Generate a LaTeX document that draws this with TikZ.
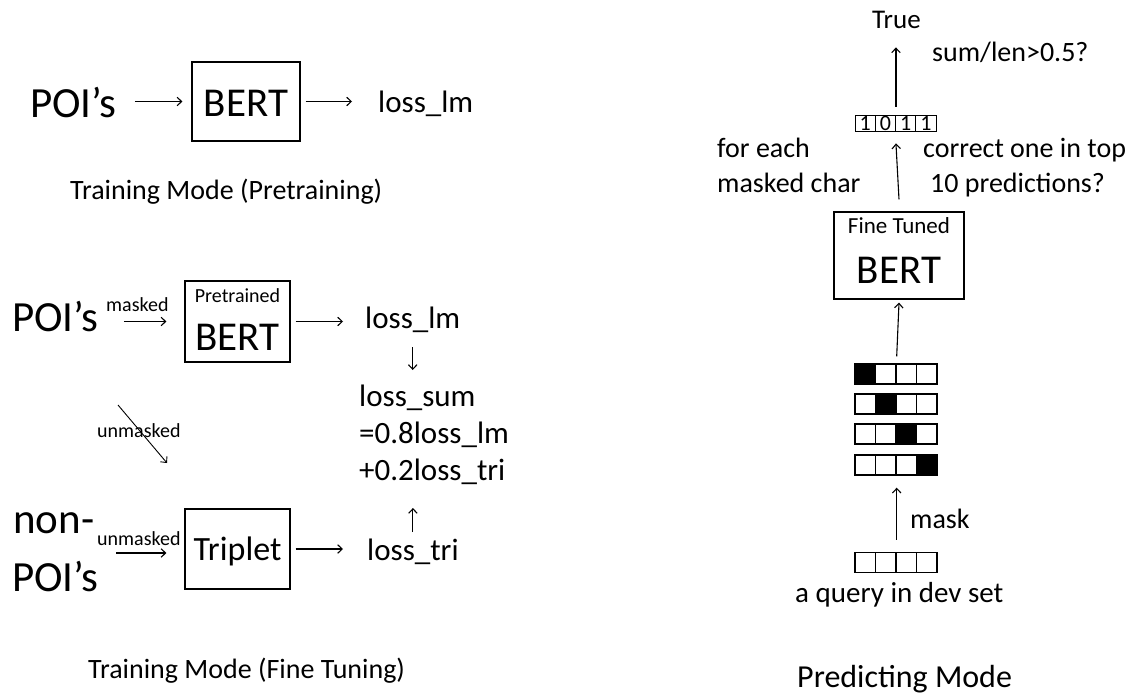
\documentclass[tikz,border=0pt]{standalone}
\usepackage{fontspec}
\setmainfont{Carlito}
\usetikzlibrary{arrows.meta}
\newcommand{\setfs}[1]{\fontsize{#1}{#1}\selectfont}

\begin{document}
\begin{tikzpicture}[x=1pt,y=-1pt,
  txt/.style={inner sep=0pt, anchor=base west},
  ctxt/.style={inner sep=0pt, anchor=base},
  huge/.style={font=\setfs{43}},
  bertfont/.style={font=\setfs{41}},
  lossfont/.style={font=\setfs{31}},
  capfont/.style={font=\setfs{28}},
  smallfont/.style={font=\setfs{20}},
  box/.style={draw, line width=1.2pt, inner sep=0pt},
  arr/.style={-{Straight Barb[length=4.5pt,width=8.5pt]}, line width=1.1pt},
  cell/.style={draw, line width=1.4pt, minimum width=20.5pt, minimum height=20pt, inner sep=0pt},
  bitcell/.style={draw, line width=0.9pt, minimum width=20.25pt, minimum height=16pt, inner sep=0pt, font=\setfs{22}}
]
\useasboundingbox (0,0) rectangle (1138,696);

% ---------- Pretraining ----------
\node[txt, huge] (poiA) at (30,117) {POI’s};
\node[box, minimum width=108pt, minimum height=79pt] (bertA) at (246,101.5) {};
\node[ctxt, bertfont] (bertAt) at (246,116) {BERT};
\node[txt, lossfont] (lossA) at (378,112) {loss\_lm};
\node[txt, capfont] (capA) at (70,199) {Training Mode (Pretraining)};

\draw[arr] ([xshift=18pt]poiA.east |- bertA) -- ([xshift=-9pt]bertA.west);
\draw[arr] ([xshift=5pt]bertA.east) -- ([xshift=-26pt]lossA.west |- bertA);

% ---------- Fine tuning ----------
\node[txt, huge] (poiB) at (12,331) {POI’s};
\node[txt, smallfont] (maskedB) at (106,311) {masked};
\node[box, minimum width=105pt, minimum height=81pt] (bertB) at (237.5,321.5) {};
\node[ctxt, smallfont] (pretr) at (237.5,302) {Pretrained};
\node[ctxt, bertfont] (bertBt) at (237.5,350) {BERT};
\node[txt, lossfont] (lossB) at (365,328) {loss\_lm};

\node[txt, lossfont] (sum1) at (359,406) {loss\_sum};
\node[txt, lossfont] (sum2) at (359,443) {=0.8loss\_lm};
\node[txt, lossfont] (sum3) at (359,480) {+0.2loss\_tri};

\node[txt, huge] (non1) at (13,533) {non-};
\node[txt, huge] (non2) at (12,591) {POI’s};
\node[txt, smallfont] (unmA) at (97,437) {unmasked};
\node[txt, smallfont] (unmB) at (97,545) {unmasked};
\node[box, minimum width=105pt, minimum height=80pt] (trip) at (237.5,549) {};
\node[ctxt, font=\setfs{34}] (tript) at (237.5,560) {Triplet};
\node[txt, lossfont] (lossT) at (367,560) {loss\_tri};
\node[txt, capfont] (capB) at (88,678) {Training Mode (Fine Tuning)};

\draw[arr] ([xshift=25pt]poiB.east |- bertB) -- ([xshift=-18pt]bertB.west);
\draw[arr] ([xshift=5pt]bertB.east) -- ([xshift=-22pt]lossB.west |- bertB);
\draw[arr] ([yshift=-19pt]lossB.base) -- ([yshift=36pt]lossB.base |- sum1.base);
\draw[arr] ([yshift=28pt]lossT.base) -- ([yshift=-28pt]lossT.base |- sum3.base);
\draw[arr] ([xshift=5pt]trip.east) -- ([xshift=-24pt]lossT.west |- trip);
\draw[arr] ([xshift=-68pt,yshift=-4pt]trip.west) -- ([xshift=-18pt,yshift=-4pt]trip.west);
\coordinate (diagS) at (118,405);
\coordinate (diagE) at (167,463);
\draw[arr, line width=0.9pt] (diagS) -- (diagE);

% ---------- Predicting ----------
\node[txt, font=\setfs{27}] (true) at (872,28) {True};
\node[txt, capfont] (ratio) at (932,61) {sum/len>0.5?};
\foreach \b [count=\j] in {1,0,1,1}
  \node[bitcell] (d\j) at ({855+20.25*(\j-0.5)},123) {\b};

\node[txt, capfont] (fe1) at (717,157) {for each};
\node[txt, capfont] (fe2) at (717,192) {masked char};
\node[txt, capfont] (cr1) at (923,157) {correct one in top};
\node[txt, capfont] (cr2) at (930,192) {10 predictions?};

\node[box, minimum width=130pt, minimum height=87pt] (ft) at (899,255.5) {};
\node[ctxt, font=\setfs{23}] (ftt) at (899,233) {Fine Tuned};
\node[ctxt, bertfont] (ftb) at (899,283) {BERT};

\foreach \r/\yy in {1/374,2/404,3/434,4/465}
  \foreach \c in {1,...,4}{
    \ifnum\r=\c
      \node[cell, fill=black] (r\r c\c) at ({855+20.5*(\c-0.5)},\yy) {};
    \else
      \node[cell] (r\r c\c) at ({855+20.5*(\c-0.5)},\yy) {};
    \fi
  }
\foreach \c in {1,...,4}
  \node[cell] (q\c) at ({855+20.5*(\c-0.5)},562.5) {};

\node[txt, capfont] (maskl) at (910,528) {mask};
\node[txt, font=\setfs{29}] (query) at (795,602) {a query in dev set};
\node[txt, font=\setfs{32}] (capC) at (797,687) {Predicting Mode};

\draw[arr] ([yshift=12pt]q2.north east) -- ([yshift=-12pt]r4c2.south east);
\draw[arr] ([yshift=7pt]r1c2.north east) -- ([yshift=-3pt]ft.south);
\draw[arr] ([yshift=12pt]ft.north) -- ([yshift=-12pt]d2.south east);
\draw[arr] ([yshift=8pt]d2.north east) -- ([yshift=-19pt]true.south -| d2.north east);
\end{tikzpicture}
\end{document}
